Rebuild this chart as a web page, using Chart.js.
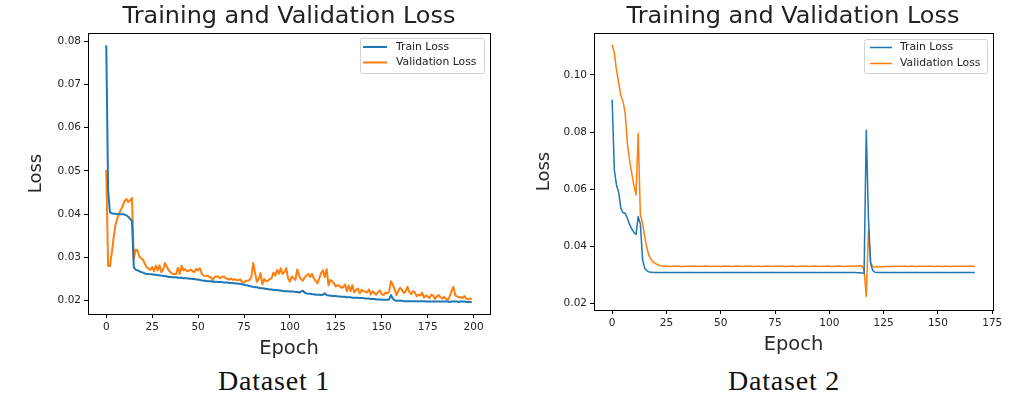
<!DOCTYPE html>
<html>
<head>
<meta charset="utf-8">
<script src="https://cdn.jsdelivr.net/npm/chart.js@4/dist/chart.umd.min.js"></script>
<style>
  body { margin: 0; background: #fff; width: 1030px; height: 398px; position: relative; overflow: hidden; }
  .panel { position: absolute; top: 0; }
  .title { position: absolute; top: 2px; font-family: "DejaVu Sans", sans-serif; font-size: 23px; line-height: 26px; color: #222; white-space: nowrap; transform: translateX(-50%) scaleX(1.04); }
  .caption { position: absolute; top: 366px; font-family: "Liberation Serif", serif; font-size: 28px; line-height: 30px; letter-spacing: 0.8px; color: #111; white-space: nowrap; transform: translateX(-50%); }
</style>
</head>
<body>
<canvas id="loss1" class="panel" style="left:0" width="515" height="362"></canvas>
<canvas id="loss2" class="panel" style="left:515px" width="515" height="362"></canvas>
<div class="title" style="left:289px">Training and Validation Loss</div>
<div class="title" style="left:793px">Training and Validation Loss</div>
<div class="caption" style="left:274px">Dataset 1</div>
<div class="caption" style="left:784px">Dataset 2</div>
<script>
// Dataset 1: 200 epochs
const trainLoss1 = [
  0.0790,0.0455,0.0404,0.0402,0.0401,0.0401,0.0400,0.0400,0.0400,0.0400,
  0.0399,0.0397,0.0394,0.0389,0.0384,0.0277,0.0272,0.0270,0.0268,0.0266,
  0.0265,0.0263,0.0262,0.0262,0.0261,0.0261,0.0260,0.0260,0.0259,0.0259,
  0.0258,0.0257,0.0257,0.0256,0.0255,0.0255,0.0254,0.0254,0.0254,0.0253,
  0.0253,0.0253,0.0252,0.0252,0.0252,0.0251,0.0251,0.0250,0.0250,0.0249,
  0.0249,0.0248,0.0247,0.0246,0.0246,0.0245,0.0245,0.0245,0.0244,0.0244,
  0.0244,0.0243,0.0243,0.0243,0.0242,0.0242,0.0242,0.0241,0.0241,0.0241,
  0.0240,0.0240,0.0239,0.0239,0.0238,0.0237,0.0236,0.0235,0.0234,0.0233,
  0.0232,0.0231,0.0231,0.0230,0.0229,0.0229,0.0228,0.0227,0.0227,0.0226,
  0.0226,0.0225,0.0225,0.0224,0.0224,0.0223,0.0223,0.0222,0.0222,0.0222,
  0.0221,0.0221,0.0221,0.0220,0.0220,0.0219,0.0221,0.0223,0.0219,0.0217,
  0.0216,0.0216,0.0215,0.0215,0.0214,0.0214,0.0214,0.0213,0.0214,0.0217,
  0.0213,0.0212,0.0212,0.0211,0.0211,0.0211,0.0210,0.0210,0.0209,0.0209,
  0.0209,0.0208,0.0208,0.0208,0.0207,0.0207,0.0207,0.0207,0.0206,0.0206,
  0.0206,0.0205,0.0205,0.0205,0.0204,0.0204,0.0204,0.0203,0.0203,0.0203,
  0.0202,0.0202,0.0202,0.0202,0.0203,0.0213,0.0205,0.0201,0.0200,0.0200,
  0.0200,0.0200,0.0199,0.0199,0.0199,0.0199,0.0199,0.0199,0.0199,0.0199,
  0.0198,0.0199,0.0199,0.0199,0.0198,0.0198,0.0198,0.0198,0.0198,0.0198,
  0.0198,0.0198,0.0198,0.0198,0.0198,0.0198,0.0198,0.0197,0.0198,0.0198,
  0.0198,0.0198,0.0197,0.0198,0.0198,0.0198,0.0197,0.0197,0.0197,0.0197
];
const valLoss1 = [
  0.0502,0.0280,0.0280,0.0310,0.0345,0.0375,0.0390,0.0402,0.0410,0.0420,
  0.0430,0.0435,0.0428,0.0432,0.0437,0.0295,0.0318,0.0316,0.0302,0.0298,
  0.0295,0.0285,0.0278,0.0274,0.0271,0.0278,0.0268,0.0281,0.0270,0.0282,
  0.0266,0.0272,0.0287,0.0278,0.0270,0.0266,0.0262,0.0262,0.0261,0.0276,
  0.0262,0.0281,0.0270,0.0273,0.0268,0.0269,0.0272,0.0268,0.0266,0.0274,
  0.0270,0.0275,0.0262,0.0258,0.0257,0.0258,0.0255,0.0254,0.0248,0.0255,
  0.0256,0.0256,0.0252,0.0255,0.0256,0.0252,0.0250,0.0249,0.0251,0.0248,
  0.0250,0.0247,0.0248,0.0249,0.0244,0.0242,0.0246,0.0246,0.0248,0.0255,
  0.0287,0.0265,0.0243,0.0250,0.0264,0.0238,0.0250,0.0245,0.0246,0.0250,
  0.0252,0.0265,0.0258,0.0271,0.0262,0.0275,0.0262,0.0266,0.0275,0.0252,
  0.0244,0.0256,0.0252,0.0248,0.0272,0.0258,0.0250,0.0246,0.0254,0.0258,
  0.0262,0.0255,0.0262,0.0252,0.0246,0.0240,0.0252,0.0264,0.0270,0.0254,
  0.0273,0.0236,0.0248,0.0245,0.0240,0.0233,0.0236,0.0234,0.0230,0.0231,
  0.0238,0.0222,0.0235,0.0222,0.0236,0.0219,0.0225,0.0228,0.0217,0.0225,
  0.0222,0.0221,0.0219,0.0226,0.0214,0.0222,0.0218,0.0214,0.0220,0.0224,
  0.0215,0.0213,0.0219,0.0217,0.0220,0.0245,0.0237,0.0226,0.0213,0.0222,
  0.0230,0.0225,0.0218,0.0222,0.0232,0.0220,0.0215,0.0222,0.0220,0.0210,
  0.0214,0.0212,0.0218,0.0207,0.0212,0.0210,0.0206,0.0214,0.0212,0.0204,
  0.0210,0.0213,0.0208,0.0205,0.0209,0.0204,0.0202,0.0210,0.0222,0.0232,
  0.0213,0.0210,0.0208,0.0208,0.0206,0.0211,0.0205,0.0203,0.0205,0.0204
];

// Dataset 2: 168 epochs
const trainLoss2 = [
  0.0913,0.0668,0.0615,0.0590,0.0534,0.0518,0.0516,0.0499,0.0477,0.0462,
  0.0450,0.0442,0.0505,0.0478,0.0355,0.0324,0.0315,0.0311,0.0310,
  0.0309,0.0309,0.0309,0.0309,0.0309,0.0309,0.0309,0.0309,0.0309,0.0309,0.0309,0.0309,
  0.0309,0.0309,0.0309,0.0309,0.0309,0.0309,0.0309,0.0309,0.0309,0.0309,0.0309,0.0309,
  0.0309,0.0309,0.0309,0.0309,0.0309,0.0309,0.0309,0.0309,0.0309,0.0309,0.0309,0.0309,
  0.0309,0.0309,0.0309,0.0309,0.0309,0.0309,0.0309,0.0309,0.0309,0.0309,0.0309,0.0309,
  0.0309,0.0309,0.0309,0.0309,0.0309,0.0309,0.0309,0.0309,0.0309,0.0309,0.0309,0.0309,
  0.0309,0.0309,0.0309,0.0309,0.0309,0.0309,0.0309,0.0309,0.0309,0.0309,0.0309,0.0309,
  0.0309,0.0309,0.0309,0.0309,0.0309,0.0309,0.0309,0.0309,0.0309,0.0309,0.0309,0.0309,
  0.0309,0.0309,0.0309,0.0309,0.0309,0.0309,0.0309,0.0309,0.0309,0.0309,0.0308,0.0308,
  0.0307,0.0306,0.0806,0.0500,0.0340,0.0316,0.0310,
  0.0309,0.0309,0.0309,0.0309,0.0309,0.0309,0.0309,0.0309,0.0309,0.0309,0.0309,0.0309,
  0.0309,0.0309,0.0309,0.0309,0.0309,0.0309,0.0309,0.0309,0.0309,0.0309,0.0309,0.0309,
  0.0309,0.0309,0.0309,0.0309,0.0309,0.0309,0.0309,0.0309,0.0309,0.0309,0.0309,0.0309,
  0.0309,0.0309,0.0309,0.0309,0.0309,0.0309,0.0309,0.0309,0.0309,0.0309
];
const valLoss2 = [
  0.1105,0.1076,0.1017,0.0971,0.0928,0.0907,0.0866,0.0761,0.0703,0.0656,
  0.0615,0.0580,0.0796,0.0510,0.0481,0.0434,0.0394,0.0367,0.0354,0.0345,
  0.0340,0.0336,0.0333,0.0332,0.0331,
  0.0331,0.0331,0.0330,0.0331,0.0331,0.0332,0.0331,0.0330,0.0330,0.0331,0.0331,0.0331,
  0.0331,0.0332,0.0331,0.0331,0.0330,0.0331,0.0332,0.0331,0.0331,0.0330,0.0331,0.0331,
  0.0331,0.0330,0.0331,0.0332,0.0331,0.0331,0.0330,0.0331,0.0331,0.0332,0.0331,0.0330,
  0.0331,0.0331,0.0332,0.0331,0.0330,0.0331,0.0331,0.0331,0.0330,0.0331,0.0332,0.0331,
  0.0331,0.0330,0.0331,0.0331,0.0332,0.0331,0.0331,0.0330,0.0331,0.0331,0.0332,0.0331,
  0.0330,0.0331,0.0331,0.0332,0.0331,0.0331,0.0330,0.0331,0.0332,0.0331,0.0331,0.0330,
  0.0331,0.0331,0.0332,0.0331,0.0330,0.0331,0.0331,0.0332,0.0331,0.0331,0.0330,0.0331,
  0.0331,0.0332,0.0331,0.0331,0.0332,0.0333,0.0332,
  0.0318,0.0225,0.0458,0.0345,0.0329,0.0328,0.0329,0.0329,0.0328,0.0329,
  0.0330,0.0330,0.0331,0.0330,0.0331,0.0331,0.0330,0.0331,0.0331,0.0331,0.0330,0.0331,
  0.0331,0.0331,0.0330,0.0331,0.0331,0.0331,0.0330,0.0331,0.0331,0.0331,0.0330,0.0331,
  0.0331,0.0331,0.0330,0.0331,0.0331,0.0331,0.0330,0.0331,0.0331,0.0331,0.0331,0.0331,
  0.0331,0.0331,0.0331,0.0331,0.0331,0.0331
];

const yTicks1 = [0.02, 0.03, 0.04, 0.05, 0.06, 0.07, 0.08];
const xTicks1 = [0, 25, 50, 75, 100, 125, 150, 175, 200];
const yTicks2 = [0.02, 0.04, 0.06, 0.08, 0.10];
const xTicks2 = [0, 25, 50, 75, 100, 125, 150, 175];

const seriesLabels = ['Train Loss', 'Validation Loss'];
const seriesColors = ['#1f77b4', '#ff7f0e'];

const tickFont = { family: 'DejaVu Sans', size: 10.5 };
const lossFont = { family: 'DejaVu Sans', size: 18 };
const epochFont = { family: 'DejaVu Sans', size: 19.5 };

// frame (all four spines) + boxed legend, matplotlib style
const frameLegend = {
  id: 'frameLegend',
  afterDatasetsDraw(chart, args, opts) {
    const { ctx, chartArea: a } = chart;
    ctx.save();
    ctx.strokeStyle = '#000';
    ctx.lineWidth = 1;
    ctx.strokeRect(Math.round(a.left) + 0.5, Math.round(a.top) + 0.5, Math.round(a.right - a.left), Math.round(a.bottom - a.top));

    const b = opts.box;
    ctx.beginPath();
    ctx.roundRect(b.x + 0.5, b.y + 0.5, b.w, b.h, 2);
    ctx.fillStyle = 'rgba(255,255,255,0.85)';
    ctx.fill();
    ctx.strokeStyle = '#d4d4d4';
    ctx.stroke();

    ctx.font = '10.8px "DejaVu Sans"';
    ctx.textBaseline = 'middle';
    chart.data.datasets.forEach((ds, i) => {
      const y = opts.rows[i];
      ctx.beginPath();
      ctx.moveTo(opts.line[0], y);
      ctx.lineTo(opts.line[1], y);
      ctx.strokeStyle = ds.borderColor;
      ctx.lineWidth = ds.borderWidth;
      ctx.stroke();
      ctx.fillStyle = '#222';
      ctx.fillText(ds.label, opts.textX, y);
    });
    ctx.restore();
  }
};

function makeLossChart(canvas, cfg) {
  const epochs = cfg.train.map((_, i) => i);
  const toPoints = arr => arr.map((v, i) => ({ x: epochs[i], y: v }));
  const datasets = [cfg.train, cfg.val].map((arr, i) => ({
    label: seriesLabels[i],
    data: toPoints(arr),
    borderColor: seriesColors[i],
    borderWidth: cfg.lineWidth,
    pointRadius: 0,
    tension: 0,
    fill: false,
    borderJoinStyle: 'round'
  }));

  return new Chart(canvas, {
    type: 'line',
    data: { datasets },
    plugins: [frameLegend],
    options: {
      responsive: false,
      animation: false,
      devicePixelRatio: 1,
      layout: { padding: { top: cfg.area.top, right: 515 - cfg.area.right, bottom: 0, left: 0 } },
      plugins: {
        legend: { display: false },
        tooltip: { enabled: false },
        frameLegend: cfg.legend
      },
      scales: {
        x: {
          type: 'linear',
          min: cfg.xRange[0],
          max: cfg.xRange[1],
          afterBuildTicks: s => { s.ticks = cfg.xTicks.map(v => ({ value: v })); },
          afterFit: s => { s.height = 362 - cfg.area.bottom; },
          grid: { drawOnChartArea: false, drawTicks: true, tickLength: 4, color: '#000' },
          border: { display: true, color: '#000' },
          ticks: { color: '#222', font: tickFont, padding: 3, maxRotation: 0, callback: v => String(v) },
          title: { display: true, text: 'Epoch', color: '#2a2a2a', font: epochFont, padding: { top: 0, bottom: cfg.epochPad } }
        },
        y: {
          type: 'linear',
          min: cfg.yRange[0],
          max: cfg.yRange[1],
          afterBuildTicks: s => { s.ticks = cfg.yTicks.map(v => ({ value: v })); },
          afterFit: s => { s.width = cfg.area.left; },
          grid: { drawOnChartArea: false, drawTicks: true, tickLength: 4, color: '#000' },
          border: { display: true, color: '#000' },
          ticks: { color: '#222', font: tickFont, padding: 3, callback: v => v.toFixed(2) },
          title: { display: true, text: 'Loss', color: '#2a2a2a', font: lossFont, padding: { top: cfg.lossPad, bottom: 0 } }
        }
      }
    }
  });
}

makeLossChart(document.getElementById('loss1'), {
  train: trainLoss1, val: valLoss1,
  xTicks: xTicks1, yTicks: yTicks1,
  xRange: [-9.95, 208.95], yRange: [0.01693, 0.08185],
  area: { left: 88, right: 490, top: 33, bottom: 314 },
  lineWidth: 2, lossPad: 26, epochPad: 1,
  legend: { box: { x: 360, y: 38, w: 124, h: 35 }, rows: [47, 62.5], line: [363, 387], textX: 396 }
});

makeLossChart(document.getElementById('loss2'), {
  train: trainLoss2, val: valLoss2,
  xTicks: xTicks2, yTicks: yTicks2,
  xRange: [-8.35, 175.35], yRange: [0.0178, 0.1146],
  area: { left: 79, right: 478, top: 33, bottom: 310 },
  lineWidth: 1.5, lossPad: 19, epochPad: 5,
  legend: { box: { x: 349, y: 39, w: 123, h: 34 }, rows: [47.5, 63.5], line: [355, 377], textX: 385 }
});
</script>
</body>
</html>
